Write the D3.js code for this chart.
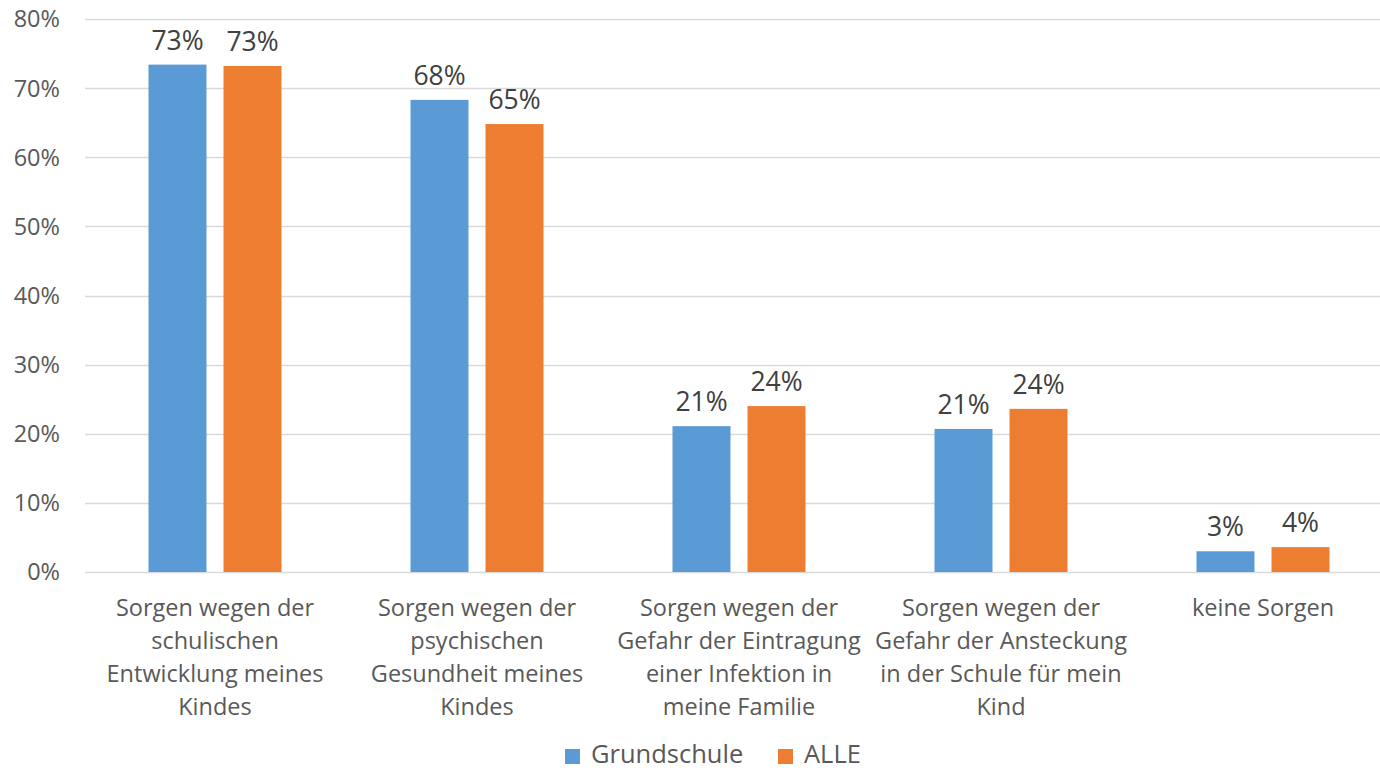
<!DOCTYPE html>
<html>
<head>
<meta charset="utf-8">
<script src="https://cdn.jsdelivr.net/npm/d3@7"></script>
<style>
  body { margin: 0; background: #fff; }
  text { font-family: "Open Sans", Lato, sans-serif; }
</style>
</head>
<body>
<div id="chart"></div>
<script>
// data
var categories = [
  ["Sorgen wegen der", "schulischen", "Entwicklung meines", "Kindes"],
  ["Sorgen wegen der", "psychischen", "Gesundheit meines", "Kindes"],
  ["Sorgen wegen der", "Gefahr der Eintragung", "einer Infektion in", "meine Familie"],
  ["Sorgen wegen der", "Gefahr der Ansteckung", "in der Schule für mein", "Kind"],
  ["keine Sorgen"]
];
var seriesNames = ["Grundschule", "ALLE"];
var grundschule = [73.4, 68.3, 21.1, 20.7, 3.0];
var alle = [73.2, 64.8, 24.0, 23.6, 3.6];
var yTicks = [0, 10, 20, 30, 40, 50, 60, 70, 80];
var colors = ["#5b9bd5", "#ed7d31"];

var width = 1380, height = 771;
var svg = d3.select("#chart").append("svg")
  .attr("width", width)
  .attr("height", height);

var x = d3.scaleBand()
  .domain(d3.range(categories.length))
  .range([84, 1394])
  .paddingInner(0)
  .paddingOuter(0);

// bars inside a group: 58px wide with a 17px gap
var x1 = d3.scaleBand()
  .domain(seriesNames)
  .range([64.5, 262 - 64.5])
  .paddingInner(0.227);

var y = d3.scaleLinear()
  .domain([0, 80])
  .range([572, 19]);

// gridlines
svg.append("g")
  .selectAll("line")
  .data(yTicks)
  .enter()
  .append("line")
    .attr("x1", 85)
    .attr("x2", width)
    .attr("y1", function (d) { return Math.round(y(d)) + 0.5; })
    .attr("y2", function (d) { return Math.round(y(d)) + 0.5; })
    .attr("stroke", "#d9d9d9")
    .attr("stroke-width", 1.3);

// y labels
svg.append("g")
  .selectAll("text")
  .data(yTicks)
  .enter()
  .append("text")
    .attr("x", 60)
    .attr("y", function (d) { return y(d); })
    .attr("dy", "0.36em")
    .attr("text-anchor", "end")
    .attr("fill", "#595959")
    .style("font-size", "23.5px")
    .text(function (d) { return d + "%"; });

// bars
var rows = categories.map(function (c, i) {
  return { i: i, values: [grundschule[i], alle[i]] };
});

var groups = svg.selectAll(".grp")
  .data(rows)
  .enter()
  .append("g")
    .attr("class", "grp")
    .attr("transform", function (d) { return "translate(" + x(d.i) + ",0)"; });

groups.selectAll("rect")
  .data(function (d) { return d.values.map(function (v, k) { return { k: k, v: v }; }); })
  .enter()
  .append("rect")
    .attr("x", function (d) { return x1(seriesNames[d.k]); })
    .attr("y", function (d) { return y(d.v); })
    .attr("width", x1.bandwidth())
    .attr("height", function (d) { return y(0) - y(d.v); })
    .attr("fill", function (d) { return colors[d.k]; });

// value labels
groups.selectAll(".val")
  .data(function (d) { return d.values.map(function (v, k) { return { k: k, v: v }; }); })
  .enter()
  .append("text")
    .attr("class", "val")
    .attr("x", function (d) { return x1(seriesNames[d.k]) + x1.bandwidth() / 2; })
    .attr("y", function (d) { return y(d.v) - 15; })
    .attr("text-anchor", "middle")
    .attr("fill", "#404040")
    .style("font-size", "26.5px")
    .text(function (d) { return Math.round(d.v) + "%"; });

// category labels
svg.append("g")
  .selectAll("text")
  .data(rows)
  .enter()
  .append("text")
    .attr("text-anchor", "middle")
    .attr("fill", "#595959")
    .style("font-size", "23.5px")
    .each(function (d) {
      var t = d3.select(this);
      categories[d.i].forEach(function (line, j) {
        t.append("tspan")
          .attr("x", x(d.i) + x.bandwidth() / 2)
          .attr("y", 616 + j * 33)
          .text(line);
      });
    });

// legend
var legend = svg.append("g");
var legendX = [565, 778];
seriesNames.forEach(function (name, k) {
  legend.append("rect")
    .attr("x", legendX[k])
    .attr("y", 749)
    .attr("width", 15)
    .attr("height", 15)
    .attr("fill", colors[k]);
  legend.append("text")
    .attr("x", legendX[k] + 26)
    .attr("y", 763)
    .attr("fill", "#595959")
    .style("font-size", "25.5px")
    .text(name);
});
</script>
</body>
</html>
